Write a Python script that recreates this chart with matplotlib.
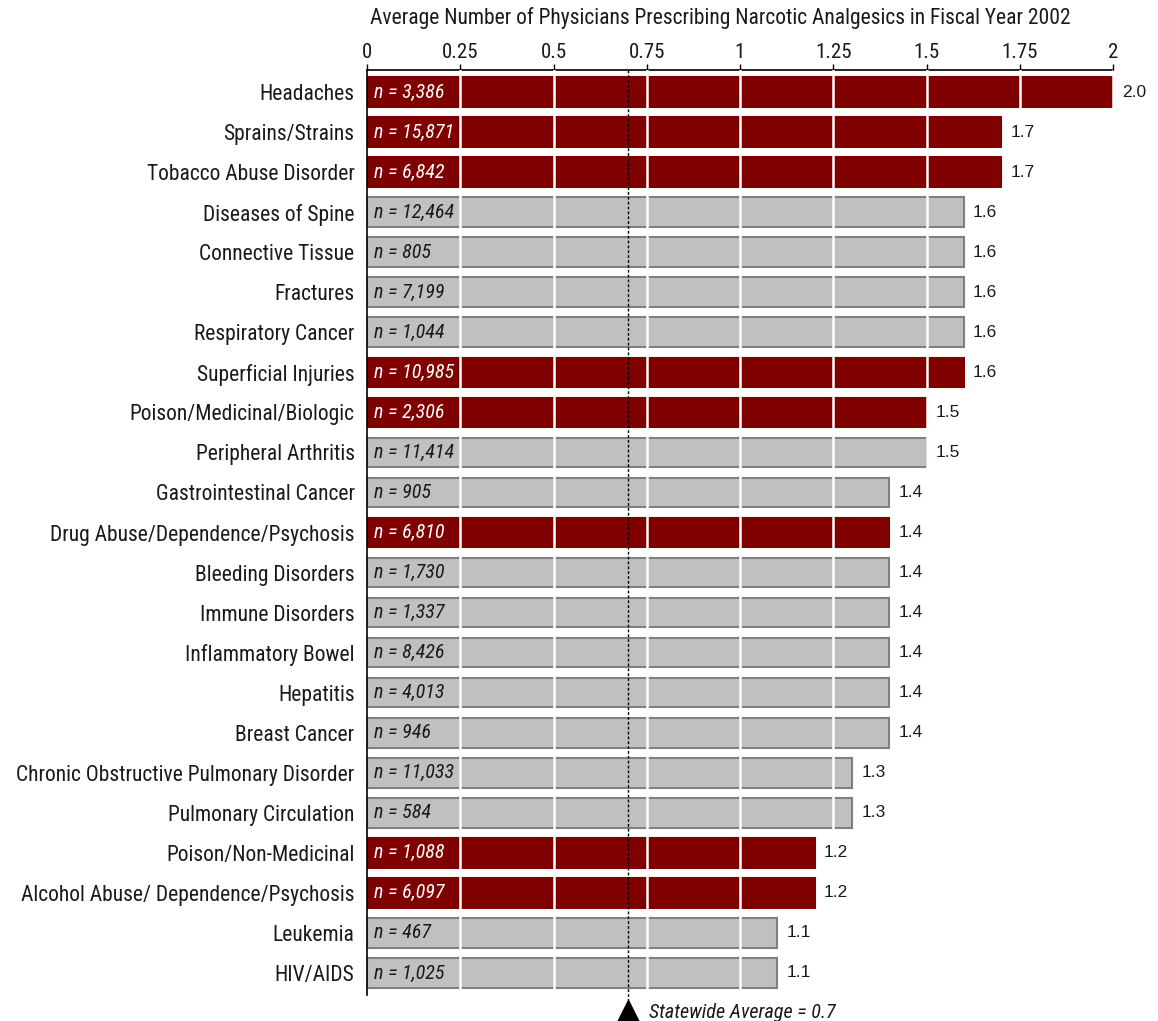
import matplotlib
matplotlib.use("Agg")
import matplotlib.pyplot as plt
import matplotlib.transforms as mtransforms
from matplotlib import font_manager

categories = ["Headaches", "Sprains/Strains", "Tobacco Abuse Disorder", "Diseases of Spine",
              "Connective Tissue", "Fractures", "Respiratory Cancer", "Superficial Injuries",
              "Poison/Medicinal/Biologic", "Peripheral Arthritis", "Gastrointestinal Cancer",
              "Drug Abuse/Dependence/Psychosis", "Bleeding Disorders", "Immune Disorders",
              "Inflammatory Bowel", "Hepatitis", "Breast Cancer",
              "Chronic Obstructive Pulmonary Disorder", "Pulmonary Circulation",
              "Poison/Non-Medicinal", "Alcohol Abuse/ Dependence/Psychosis", "Leukemia", "HIV/AIDS"]
values = [2.0, 1.7, 1.7, 1.6, 1.6, 1.6, 1.6, 1.6, 1.5, 1.5, 1.4, 1.4, 1.4, 1.4, 1.4, 1.4, 1.4,
          1.3, 1.3, 1.2, 1.2, 1.1, 1.1]
n_counts = ["3,386", "15,871", "6,842", "12,464", "805", "7,199", "1,044", "10,985", "2,306",
            "11,414", "905", "6,810", "1,730", "1,337", "8,426", "4,013", "946", "11,033",
            "584", "1,088", "6,097", "467", "1,025"]
highlight = [True, True, True, False, False, False, False, True, True, False, False, True,
             False, False, False, False, False, False, False, True, True, False, False]
statewide_avg = 0.7
xticks = [0, 0.25, 0.5, 0.75, 1, 1.25, 1.5, 1.75, 2]
xticklabels = ["0", "0.25", "0.5", "0.75", "1", "1.25", "1.5", "1.75", "2"]
title = "Average Number of Physicians Prescribing Narcotic Analgesics in Fiscal Year 2002"

names = {f.name for f in font_manager.fontManager.ttflist}
narrow = next((f for f in ["Roboto Condensed", "Archivo Narrow", "PT Sans Narrow"] if f in names),
              "DejaVu Sans")
plain = "Liberation Sans" if "Liberation Sans" in names else "DejaVu Sans"
plt.rcParams['font.family'] = [narrow, "DejaVu Sans"]

RED = "#800000"
GRAY = "#C0C0C0"
EDGE = "#808080"
TXT = "#1a1a1a"

W, H = 1158, 1021
fig = plt.figure(figsize=(W / 100, H / 100), dpi=100)
ax = fig.add_axes([367 / W, 1 - 995 / H, 746 / W, (995 - 70) / H])

y = list(range(len(categories)))
colors = [RED if h else GRAY for h in highlight]
edges = [RED if h else EDGE for h in highlight]
ax.barh(y, values, height=0.74, color=colors, edgecolor=edges, linewidth=1.5, zorder=2)

ax.set_xlim(0, 2)
ax.set_ylim(len(categories) - 0.45, -0.55)

for gx in xticks[1:]:
    ax.axvline(gx, color="white", lw=1.8, zorder=3)

ax.xaxis.tick_top()
ax.set_xticks(xticks)
ax.set_xticklabels(xticklabels, fontsize=15, color=TXT)
ax.tick_params(axis="x", direction="out", length=4, width=1, pad=2, colors="black")
ax.set_yticks(y)
ax.set_yticklabels(categories, fontsize=15.5, color=TXT)
ax.tick_params(axis="y", length=0, pad=9)
for lbl in ax.get_xticklabels():
    lbl.set_color(TXT)
for s in ["right", "bottom"]:
    ax.spines[s].set_visible(False)
ax.spines["left"].set_linewidth(1.2)
ax.spines["top"].set_linewidth(1.2)

ax.text(0.473, 1.0 + 52 / 925, title, transform=ax.transAxes, ha="center", va="center",
        fontsize=15.5, color=TXT)

for i, (v, n, h) in enumerate(zip(values, n_counts, highlight)):
    ax.text(0.018, i, f"n = {n}", ha="left", va="center", fontsize=14.5, style="italic",
            color="white" if h else TXT, zorder=4)
    ax.text(v + 0.025, i, f"{v:.1f}", ha="left", va="center", fontsize=12.5,
            family=[plain, "DejaVu Sans"], color=TXT, zorder=4)

# statewide average line and marker
trans = mtransforms.blended_transform_factory(ax.transData, ax.transAxes)
ax.plot([statewide_avg, statewide_avg], [1.0, -5 / 925], transform=trans, color="black",
        lw=1, ls=(0, (2, 1.5)), zorder=5, clip_on=False)
ax.plot([statewide_avg], [-17 / 925], transform=trans, marker="^", markersize=17,
        color="black", clip_on=False, zorder=6)
ax.text(statewide_avg + 0.055, -17 / 925, f"Statewide Average = {statewide_avg}",
        transform=trans, ha="left", va="center", fontsize=14.5, style="italic",
        color=TXT, clip_on=False)

fig.savefig("out.png", dpi=100)
